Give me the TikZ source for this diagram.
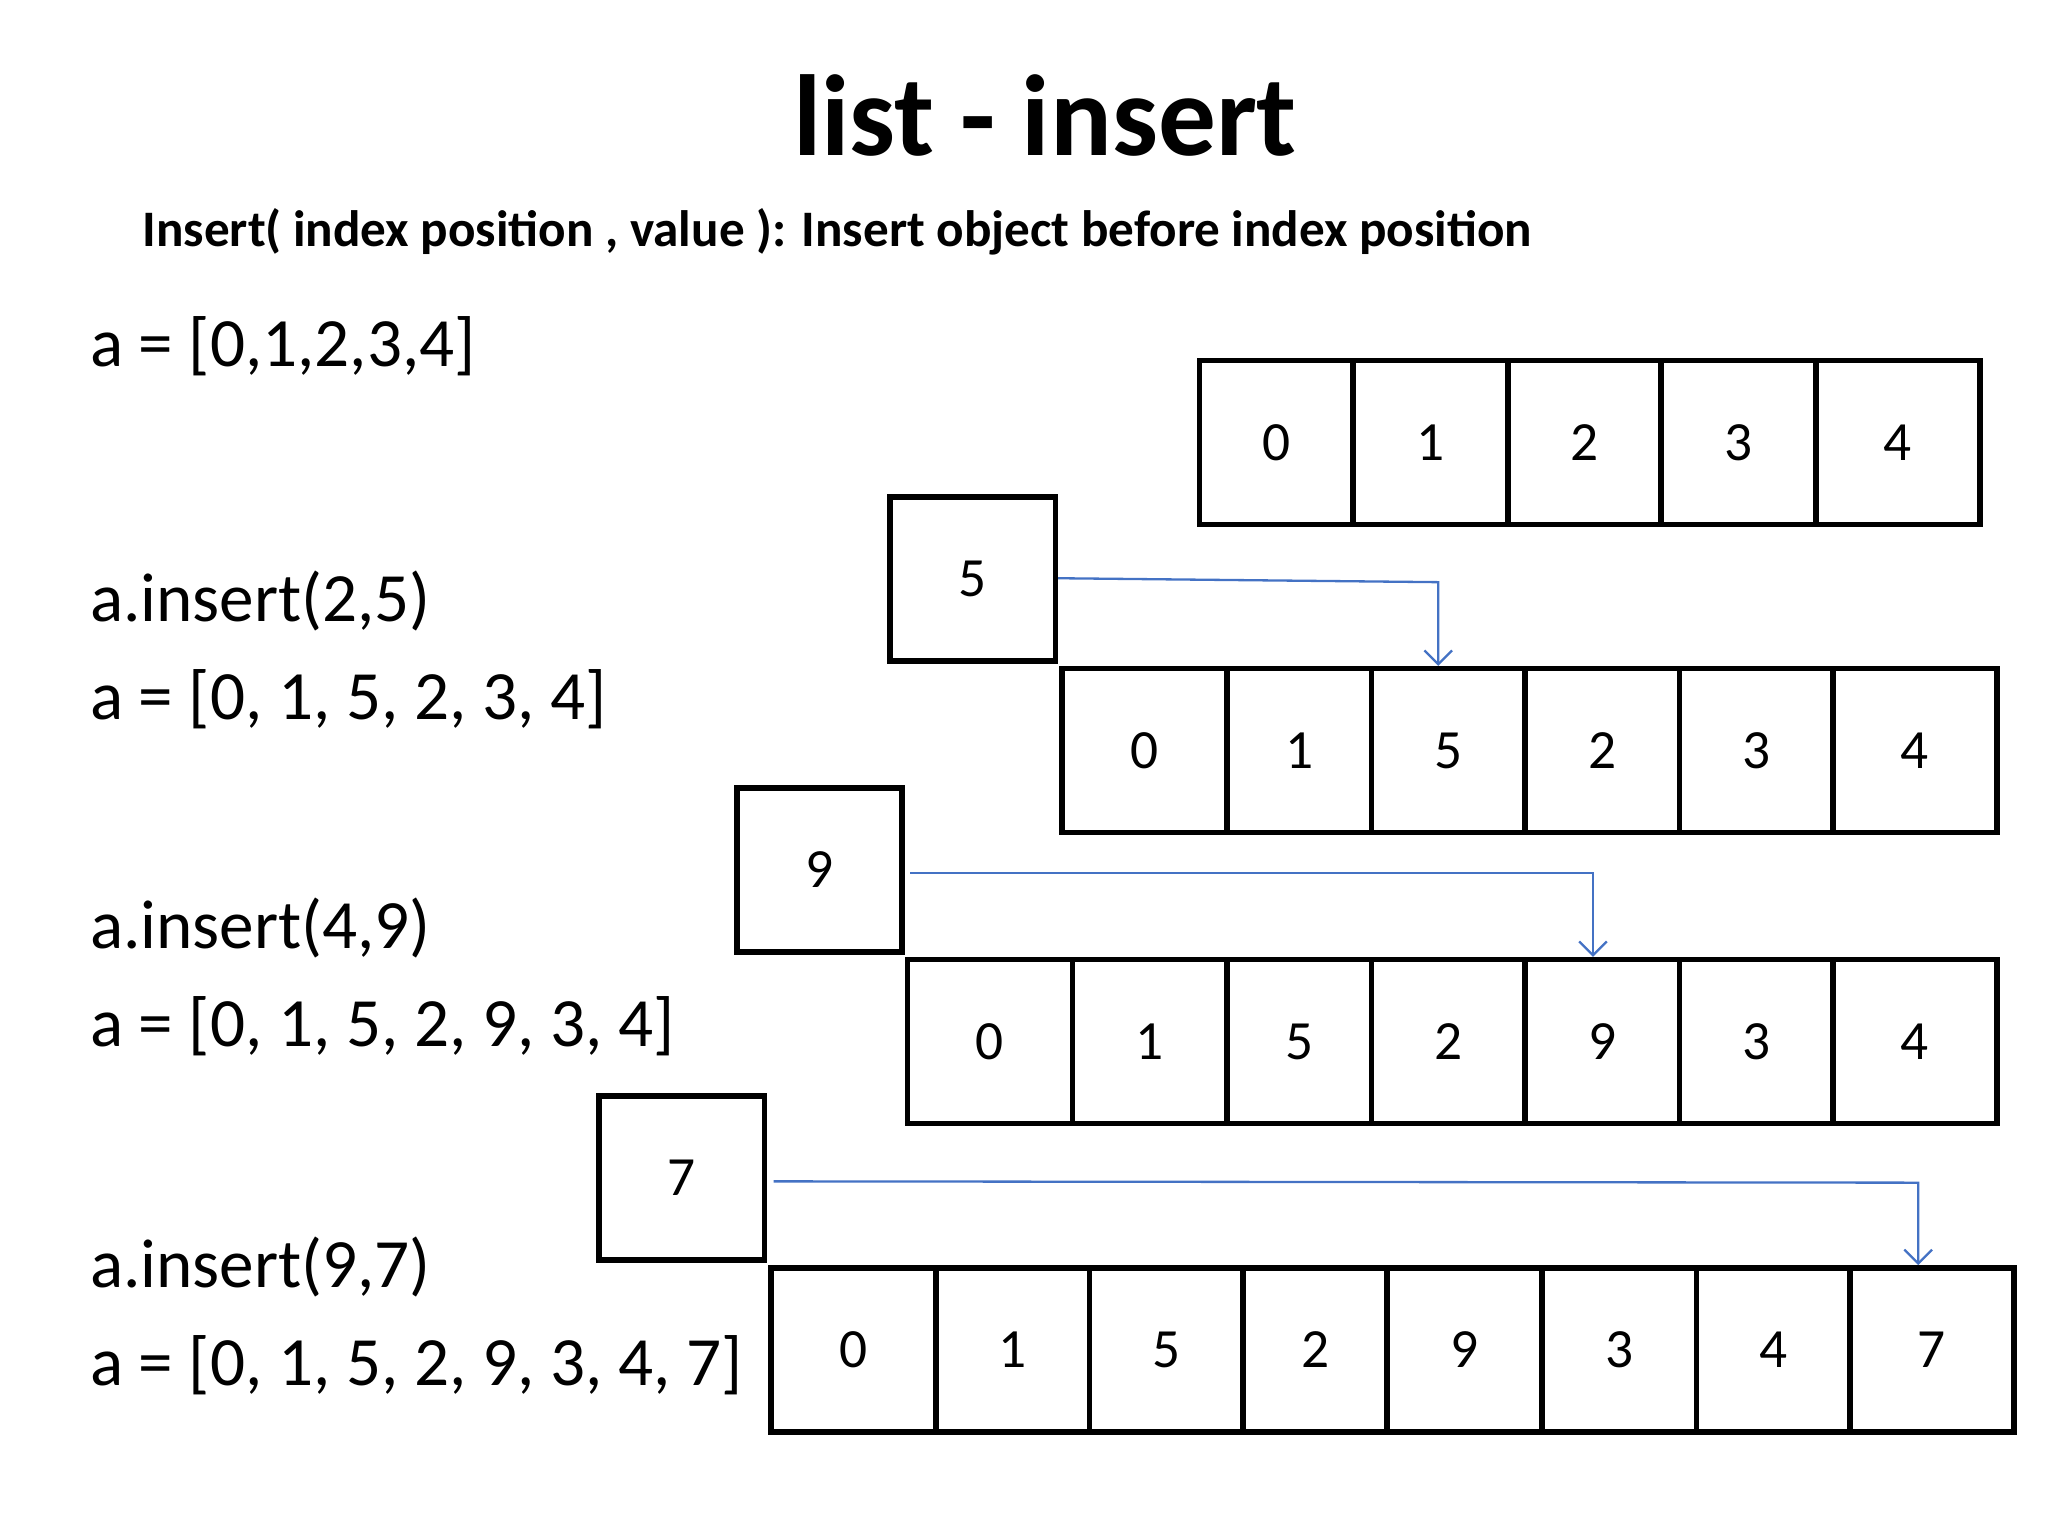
\documentclass[tikz,border=0pt]{standalone}
\usepackage{fontspec}
\setmainfont{Carlito}
\usetikzlibrary{arrows.meta}
\definecolor{arr}{RGB}{68,114,196}
\begin{document}
\begin{tikzpicture}[x=0.01cm,y=-0.01cm,
  cell/.style={draw,line width=1.2pt,minimum width={(#1)*0.01cm},minimum height=1.25cm,inner sep=0pt,font=\fontsize{12}{14}\selectfont},
  cell/.default=117,
  lbl/.style={anchor=west,inner sep=0pt,font=\fontsize{15}{18}\selectfont},
  conn/.style={draw=arr,line width=0.5pt,-{Straight Barb[length=3pt]}}]
\useasboundingbox (0,0) rectangle (1562,1171.5);
\node[font=\bfseries\fontsize{25}{30}\selectfont] (title) at (797,88) {list - insert};
\node[anchor=west,inner sep=0pt,font=\bfseries\fontsize{11.1}{13}\selectfont] (sub) at (108,177) {Insert( index position , value ): Insert object before index position};
\node[lbl] (t1) at (68,264) {a = [0,1,2,3,4]};
\node[lbl] (t2) at (68,458) {a.insert(2,5)};
\node[lbl] (t3) at (68,533) {a = [0, 1, 5, 2, 3, 4]};
\node[lbl] (t4) at (68,708) {a.insert(4,9)};
\node[lbl] (t5) at (68,783) {a = [0, 1, 5, 2, 9, 3, 4]};
\node[lbl] (t6) at (68,966) {a.insert(9,7)};
\node[lbl] (t7) at (68,1041) {a = [0, 1, 5, 2, 9, 3, 4, 7]};
\def\row#1#2#3{%
  \foreach \xa/\xb/\v [count=\i] in {#3} {
    \pgfmathsetmacro\mycellw{\xb-\xa}
    \node[cell=\mycellw] (#1\i) at ({(\xa+\xb)/2},#2) {\v};
  }}
\row{r}{337.5}{915/1032/0,1032/1150/1,1150/1267/2,1267/1385/3,1385/1510/4}
\row{s}{572.5}{810/936/0,936/1046/1,1046/1163/5,1163/1281/2,1281/1398/3,1398/1523/4}
\row{u}{794.5}{692/818/0,818/936/1,936/1046/5,1046/1163/2,1163/1281/9,1281/1398/3,1398/1523/4}
\row{w}{1029.5}{588/714/0,714/831/1,831/948/5,948/1058/2,1058/1176/9,1176/1294/3,1294/1411/4,1411/1536/7}
\node[cell=126] (b5) at (742,441.5) {5};
\node[cell=126] (b9) at (625,663.5) {9};
\node[cell=126] (b7) at (520,898.5) {7};
\coordinate (c5) at (1097,444);
\coordinate (c9) at (1215,666);
\coordinate (c7) at (1463,902);
\draw[conn] (b5.east |- 0,441) -- (c5) -- (c5 |- s3.north);
\draw[conn] ([xshift=0.04cm]b9.east |- 0,666) -- (c9) -- (c9 |- u5.north);
\draw[conn] ([xshift=0.05cm]b7.east |- 0,901) -- (c7) -- (c7 |- w8.north);
\end{tikzpicture}
\end{document}
